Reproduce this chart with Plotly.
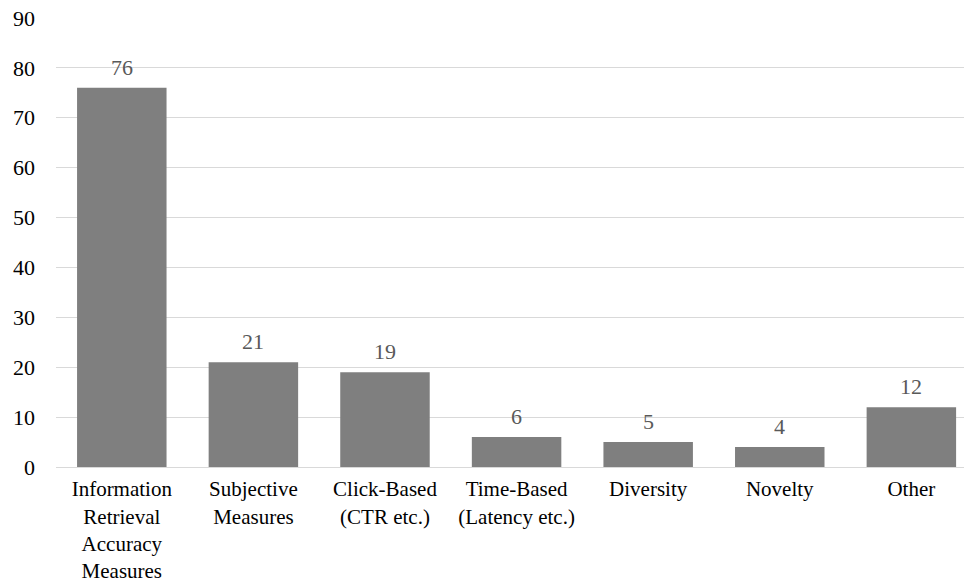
import plotly.graph_objects as go

categories = [
    "Information<br>Retrieval<br>Accuracy<br>Measures",
    "Subjective<br>Measures",
    "Click-Based<br>(CTR etc.)",
    "Time-Based<br>(Latency etc.)",
    "Diversity",
    "Novelty",
    "Other",
]
counts = [76, 21, 19, 6, 5, 4, 12]
y_ticks = list(range(0, 91, 10))

FONT = "Liberation Serif"

fig = go.Figure(
    go.Bar(
        x=categories,
        y=counts,
        marker=dict(color="#7f7f7f", line=dict(width=0)),
        width=0.68,
        hoverinfo="skip",
    )
)

# value labels above each bar
for cat, v in zip(categories, counts):
    fig.add_annotation(
        x=cat, y=v, text=str(v), showarrow=False,
        yanchor="bottom", yshift=6,
        font=dict(family=FONT, size=22, color="#595959"),
    )

fig.update_layout(
    width=964,
    height=584,
    margin=dict(l=56, r=0, t=18, b=117),
    paper_bgcolor="white",
    plot_bgcolor="white",
    showlegend=False,
    font=dict(family=FONT, size=22, color="#000000"),
    xaxis=dict(
        range=[-0.5, 6.4],
        automargin=False,
        showgrid=False,
        showline=True,
        linecolor="#d9d9d9",
        linewidth=1,
        ticks="",
        ticklabelstandoff=3,
        tickfont=dict(family=FONT, size=21, color="#000000"),
    ),
    yaxis=dict(
        range=[0, 90],
        automargin=False,
        tickvals=y_ticks,
        showgrid=True,
        gridcolor="#d9d9d9",
        gridwidth=1,
        zeroline=False,
        showline=False,
        ticks="",
        ticklabelstandoff=20,
        tickfont=dict(family=FONT, size=22, color="#000000"),
    ),
)

fig.write_html("out.html")
